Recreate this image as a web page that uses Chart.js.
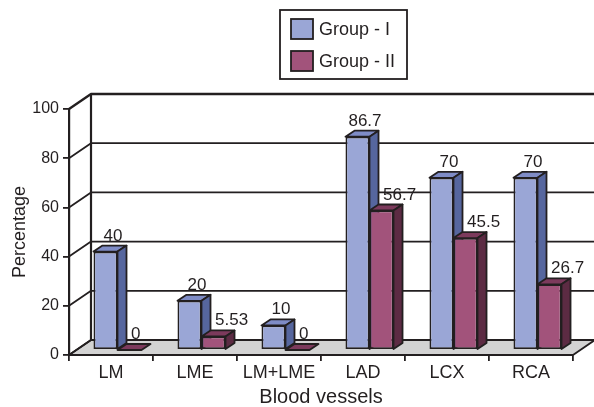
<!DOCTYPE html>
<html>
<head>
<meta charset="utf-8">
<script src="https://cdn.jsdelivr.net/npm/chart.js@4/dist/chart.umd.min.js"></script>
<style>
  html, body { margin: 0; padding: 0; background: #ffffff; }
  #wrap { width: 594px; height: 407px; }
</style>
</head>
<body>
<div id="wrap"><canvas id="c" width="594" height="407"></canvas></div>
<script>
// Vessel involvement (%) per group
const categories = ['LM', 'LME', 'LM+LME', 'LAD', 'LCX', 'RCA'];
const groupOne = [40, 20, 10, 86.7, 70, 70];
const groupTwo = [0, 5.53, 0, 56.7, 45.5, 26.7];
const seriesNames = ['Group - I', 'Group - II'];
const yTicks = [0, 20, 40, 60, 80, 100];

const INK = '#231f20';
const FONT = 'Arial, "Liberation Sans", Helvetica, sans-serif';
const LINE = 1.8;

// 3D look: wall depth, bar placement inside the depth, bar depth
const WALL = { dx: 22, dy: 15 };
const BAR_SHIFT = { dx: 6.5, dy: 5 };
const BAR_DEPTH = { dx: 9, dy: 6 };

const palette = [
  { front: '#9aa6d6', top: '#7f8cc6', side: '#56669e' },
  { front: '#a2537b', top: '#7c3a5c', side: '#5c2b43' }
];

function poly(ctx, pts, fill) {
  ctx.beginPath();
  ctx.moveTo(pts[0][0], pts[0][1]);
  for (let i = 1; i < pts.length; i++) ctx.lineTo(pts[i][0], pts[i][1]);
  ctx.closePath();
  if (fill) { ctx.fillStyle = fill; ctx.fill(); }
  ctx.stroke();
}

const box3d = {
  id: 'box3d',
  beforeDraw(chart) {
    const { ctx, chartArea: a, scales } = chart;
    const y = scales.y;
    ctx.save();
    ctx.strokeStyle = INK;
    ctx.lineJoin = 'round';
    // floor
    ctx.lineWidth = LINE;
    const b = y.getPixelForValue(0);
    poly(ctx, [[a.left, b], [a.right, b], [a.right + WALL.dx, b - WALL.dy], [a.left + WALL.dx, b - WALL.dy]], '#d3d3d3');
    // back wall gridlines and side-wall connectors
    yTicks.forEach(v => {
      const py = y.getPixelForValue(v);
      ctx.lineWidth = v === 100 ? 2.4 : LINE;
      ctx.beginPath();
      ctx.moveTo(a.left, py);
      ctx.lineTo(a.left + WALL.dx, py - WALL.dy);
      ctx.lineTo(a.right + WALL.dx + 2, py - WALL.dy);
      ctx.stroke();
    });
    ctx.lineWidth = 2.2;
    ctx.beginPath();
    ctx.moveTo(a.left + WALL.dx, y.getPixelForValue(100) - WALL.dy);
    ctx.lineTo(a.left + WALL.dx, b - WALL.dy);
    ctx.stroke();
    ctx.restore();
  },
  beforeDatasetsDraw(chart) {
    const ctx = chart.ctx;
    ctx.save();
    ctx.translate(BAR_SHIFT.dx, -BAR_SHIFT.dy);
    ctx.strokeStyle = INK;
    ctx.lineWidth = LINE;
    ctx.lineJoin = 'round';
    const n = chart.data.labels.length;
    for (let i = 0; i < n; i++) {
      chart.data.datasets.forEach((ds, di) => {
        const el = chart.getDatasetMeta(di).data[i];
        const w = el.width;
        const l = el.x - w / 2, r = el.x + w / 2;
        const t = el.y, bt = el.base;
        const c = palette[di];
        const dx = BAR_DEPTH.dx, dy = BAR_DEPTH.dy;
        // top face
        poly(ctx, [[l, t], [r, t], [r + dx, t - dy], [l + dx, t - dy]], c.top);
        // right side face
        if (bt - t > 0.5) {
          poly(ctx, [[r, t], [r + dx, t - dy], [r + dx, bt - dy], [r, bt]], c.side);
        }
      });
    }
  },
  afterDatasetsDraw(chart) {
    const ctx = chart.ctx;
    ctx.restore();
    // value labels
    ctx.save();
    ctx.fillStyle = INK;
    ctx.font = '17px ' + FONT;
    ctx.textBaseline = 'alphabetic';
    chart.data.datasets.forEach((ds, di) => {
      chart.getDatasetMeta(di).data.forEach((el, i) => {
        const w = el.width;
        const left = el.x - w / 2 + BAR_SHIFT.dx;
        const yTop = el.y - BAR_SHIFT.dy - BAR_DEPTH.dy - 5;
        const txt = String(ds.data[i]);
        if (di === 0) {
          ctx.textAlign = 'center';
          ctx.fillText(txt, left + w / 2 + BAR_DEPTH.dx / 2 + 3, yTop);
        } else {
          ctx.textAlign = 'left';
          ctx.fillText(txt, left + 13.5, yTop);
        }
      });
    });
    ctx.restore();
  },
  afterDraw(chart) {
    // legend box
    const ctx = chart.ctx;
    ctx.save();
    ctx.strokeStyle = INK;
    ctx.lineWidth = LINE;
    ctx.fillStyle = '#ffffff';
    ctx.fillRect(280, 10, 127, 69);
    ctx.strokeRect(280, 10, 127, 69);
    ctx.font = '18px ' + FONT;
    ctx.textAlign = 'left';
    ctx.textBaseline = 'middle';
    chart.data.datasets.forEach((ds, di) => {
      const yy = 19 + di * 32;
      ctx.fillStyle = ds.backgroundColor;
      ctx.fillRect(291, yy, 22, 20);
      ctx.strokeRect(291, yy, 22, 20);
      ctx.fillStyle = INK;
      ctx.fillText(ds.label, 319, yy + 11);
    });
    ctx.restore();
  }
};

new Chart(document.getElementById('c'), {
  type: 'bar',
  data: {
    labels: categories,
    datasets: [
      { label: seriesNames[0], data: groupOne, backgroundColor: palette[0].front,
        borderColor: INK, borderWidth: LINE, borderSkipped: false, clip: false },
      { label: seriesNames[1], data: groupTwo, backgroundColor: palette[1].front,
        borderColor: INK, borderWidth: LINE, borderSkipped: false, clip: false }
    ]
  },
  options: {
    responsive: false,
    animation: false,
    events: [],
    categoryPercentage: 0.572,
    barPercentage: 1,
    layout: { padding: { top: 109, right: 21, left: 0, bottom: 0 } },
    plugins: { legend: { display: false }, tooltip: { enabled: false } },
    scales: {
      x: {
        offset: true,
        grid: { display: true, drawOnChartArea: false, offset: true, tickLength: 6, color: INK, lineWidth: LINE },
        border: { display: true, color: INK, width: LINE },
        ticks: { color: INK, font: { family: FONT, size: 18 }, padding: 1, maxRotation: 0, autoSkip: false },
        title: { display: true, text: 'Blood vessels', color: INK, font: { family: FONT, size: 20 }, padding: { top: 0, bottom: -2 } },
        afterFit(s) { s.height = 52; }
      },
      y: {
        min: 0, max: 100,
        afterBuildTicks(s) { s.ticks = yTicks.map(v => ({ value: v })); },
        grid: { display: true, drawOnChartArea: false, tickLength: 6, color: INK, lineWidth: LINE },
        border: { display: true, color: INK, width: 2.2 },
        ticks: { color: INK, font: { family: FONT, size: 16 }, padding: 4 },
        title: { display: true, text: 'Percentage', color: INK, font: { family: FONT, size: 18 }, padding: { top: 9, bottom: 0 } },
        afterFit(s) { s.width = 69; }
      }
    }
  },
  plugins: [box3d]
});
</script>
</body>
</html>
